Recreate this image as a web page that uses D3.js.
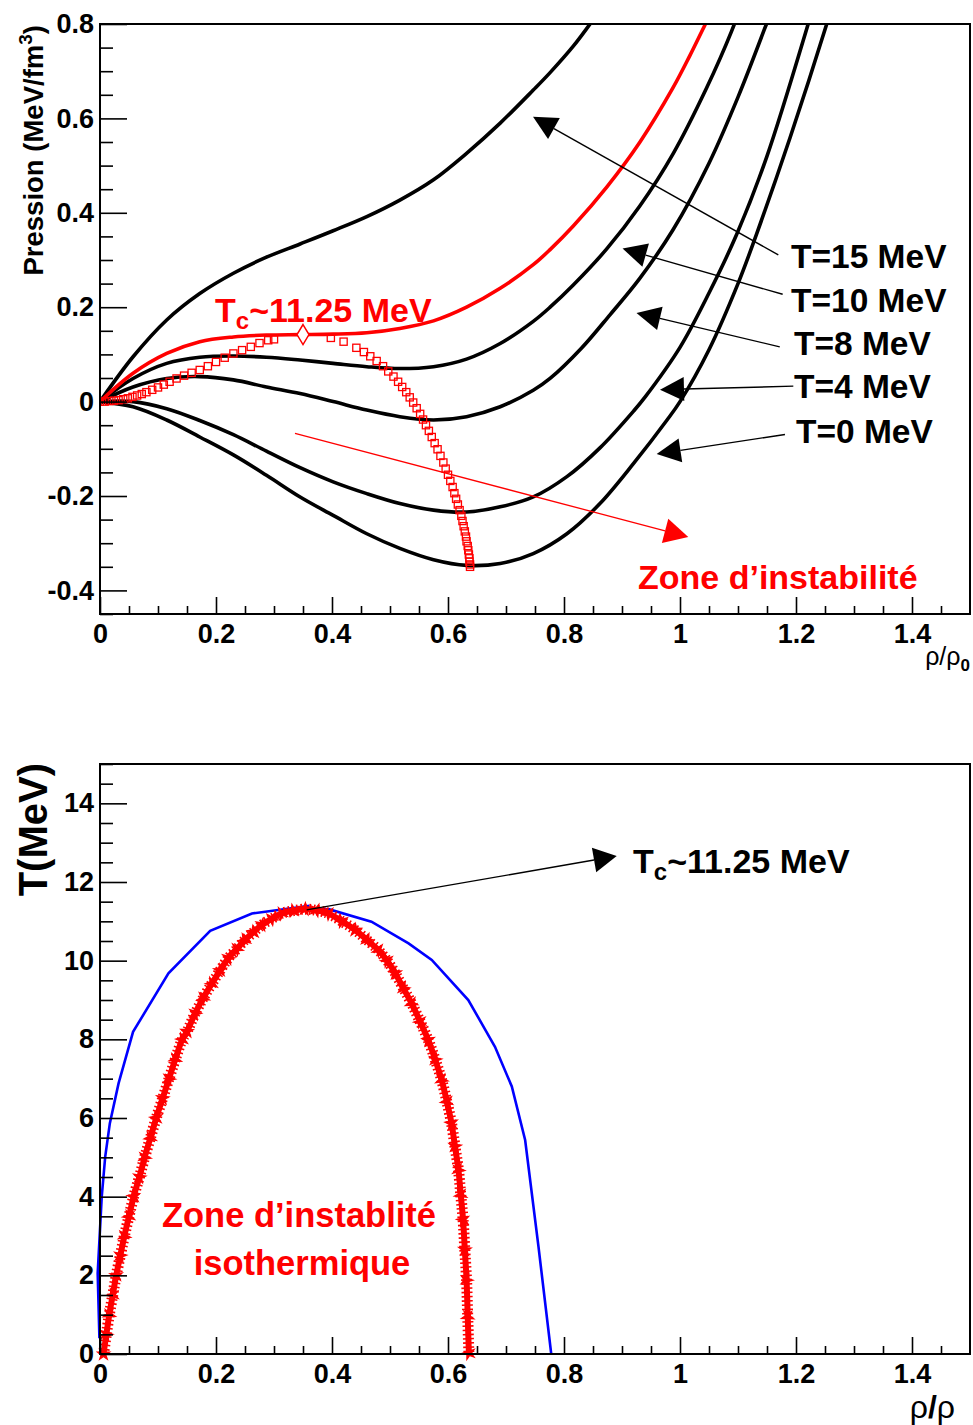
<!DOCTYPE html>
<html>
<head>
<meta charset="utf-8">
<script src="https://cdn.jsdelivr.net/npm/d3@7"></script>
<style>
  body { margin: 0; background: #fff; }
  svg text { font-family: "Liberation Sans", Arial, Helvetica, sans-serif; font-weight: bold; }
</style>
</head>
<body>
<svg id="fig" width="973" height="1425"></svg>
<script>
// ---- top panel: isotherms P(rho/rho0) ----
const rhoT15  = [0, 0.057, 0.115, 0.172, 0.230, 0.287, 0.345, 0.402, 0.460, 0.517, 0.575, 0.632, 0.690, 0.747, 0.776, 0.816, 0.845, 0.870];
const presT15 = [0, 0.095, 0.173, 0.229, 0.272, 0.306, 0.334, 0.362, 0.392, 0.427, 0.470, 0.526, 0.590, 0.660, 0.697, 0.753, 0.800, 0.842];

const rhoTc  = [0, 0.057, 0.115, 0.172, 0.230, 0.287, 0.345, 0.402, 0.460, 0.517, 0.575, 0.632, 0.690, 0.747, 0.776, 0.816, 0.874, 0.931, 0.988, 1.017, 1.043, 1.060];
const presTc = [0, 0.060, 0.102, 0.127, 0.137, 0.141, 0.142, 0.143, 0.146, 0.155, 0.171, 0.200, 0.240, 0.290, 0.322, 0.372, 0.455, 0.550, 0.665, 0.733, 0.798, 0.840];

const rhoT10  = [0, 0.057, 0.115, 0.172, 0.230, 0.287, 0.345, 0.402, 0.460, 0.517, 0.575, 0.632, 0.690, 0.747, 0.776, 0.816, 0.874, 0.931, 0.988, 1.046, 1.089, 1.110];
const presT10 = [0, 0.049, 0.081, 0.094, 0.0965, 0.094, 0.088, 0.081, 0.074, 0.070, 0.074, 0.090, 0.123, 0.170, 0.200, 0.247, 0.324, 0.415, 0.525, 0.665, 0.785, 0.855];

const rhoT8  = [0, 0.057, 0.115, 0.172, 0.230, 0.287, 0.345, 0.402, 0.460, 0.517, 0.575, 0.632, 0.690, 0.747, 0.776, 0.830, 0.880, 0.930, 0.988, 1.050, 1.100, 1.149, 1.170];
const presT8 = [0, 0.031, 0.049, 0.053, 0.046, 0.031, 0.017, 0.000, -0.018, -0.032, -0.039, -0.032, -0.011, 0.024, 0.049, 0.113, 0.185, 0.260, 0.364, 0.505, 0.645, 0.800, 0.870];

const rhoT4  = [0, 0.057, 0.115, 0.172, 0.230, 0.287, 0.345, 0.402, 0.460, 0.517, 0.575, 0.632, 0.690, 0.747, 0.805, 0.862, 0.920, 0.940, 1.000, 1.050, 1.098, 1.150, 1.221, 1.240];
const presT4 = [0, 0.000, -0.015, -0.040, -0.070, -0.105, -0.140, -0.170, -0.195, -0.216, -0.230, -0.234, -0.223, -0.202, -0.159, -0.098, -0.020, 0.010, 0.115, 0.230, 0.355, 0.520, 0.800, 0.880];

const rhoT0  = [0, 0.057, 0.115, 0.172, 0.230, 0.287, 0.345, 0.402, 0.460, 0.517, 0.575, 0.632, 0.690, 0.747, 0.805, 0.862, 0.920, 0.977, 1.000, 1.050, 1.100, 1.132, 1.190, 1.253, 1.270];
const presT0 = [0, -0.011, -0.039, -0.075, -0.113, -0.156, -0.202, -0.241, -0.280, -0.311, -0.335, -0.347, -0.343, -0.322, -0.280, -0.216, -0.131, -0.040, 0.000, 0.110, 0.250, 0.355, 0.560, 0.800, 0.870];

// spinodal points (open squares) and critical point (diamond)
const spinRho  = [0.000, 0.008, 0.016, 0.024, 0.032, 0.040, 0.048, 0.056, 0.064, 0.072, 0.080, 0.090, 0.100, 0.110, 0.120, 0.132, 0.145, 0.158, 0.172, 0.186, 0.200, 0.215, 0.230, 0.245, 0.260, 0.275, 0.290, 0.300,
                  0.398, 0.420, 0.442, 0.455, 0.466, 0.477, 0.488, 0.497, 0.506, 0.514, 0.521, 0.528, 0.534, 0.540, 0.546, 0.552, 0.557, 0.562, 0.567, 0.572, 0.577, 0.582, 0.587, 0.592, 0.596, 0.600, 0.604, 0.608, 0.611, 0.614, 0.617, 0.620, 0.623, 0.625, 0.627, 0.629, 0.631, 0.632, 0.634, 0.635, 0.636, 0.637, 0.637, 0.638, 0.638];
const spinPres = [0.000, 0.000, 0.001, 0.002, 0.003, 0.005, 0.007, 0.010, 0.013, 0.016, 0.020, 0.025, 0.030, 0.036, 0.042, 0.049, 0.055, 0.061, 0.067, 0.075, 0.084, 0.093, 0.102, 0.109, 0.116, 0.124, 0.130, 0.132,
                  0.135, 0.127, 0.114, 0.105, 0.096, 0.086, 0.075, 0.064, 0.053, 0.042, 0.031, 0.020, 0.009, -0.002, -0.014, -0.026, -0.038, -0.050, -0.062, -0.075, -0.088, -0.101, -0.115, -0.129, -0.142, -0.155, -0.168, -0.181, -0.194, -0.206, -0.218, -0.230, -0.242, -0.253, -0.264, -0.275, -0.286, -0.296, -0.306, -0.315, -0.324, -0.332, -0.339, -0.345, -0.350];
const critRho = 0.35, critPres = 0.142;

const isoLabels = ["T=15 MeV", "T=10 MeV", "T=8 MeV", "T=4 MeV", "T=0 MeV"];
const isoArrowTail = [[1.1695, 0.3107], [1.177, 0.2274], [1.172, 0.116], [1.1954, 0.0327], [1.181, -0.0696]];
const isoArrowTip  = [[0.7466, 0.6034], [0.901, 0.3243], [0.925, 0.1879], [0.9655, 0.0252], [0.9598, -0.1111]];
const zoneArrow = [[0.3362, -0.0674], [1.0143, -0.2867]];

// ---- bottom panel: T vs rho/rho0 ----
const spinStarRho = [0.006, 0.011, 0.016, 0.022, 0.028, 0.035, 0.042, 0.050, 0.058, 0.068, 0.077, 0.087, 0.097, 0.108, 0.119, 0.130, 0.142, 0.150, 0.164, 0.178, 0.193, 0.207, 0.221, 0.236, 0.250, 0.265, 0.279, 0.296, 0.313, 0.333, 0.353,
                     0.373, 0.394, 0.417, 0.440, 0.460, 0.480, 0.495, 0.509, 0.523, 0.537, 0.552, 0.566, 0.578, 0.589, 0.598, 0.606, 0.612, 0.618, 0.622, 0.626, 0.629, 0.632, 0.634, 0.636];
const spinStarT   = [0.00, 0.50, 1.00, 1.50, 2.00, 2.50, 3.00, 3.50, 4.00, 4.50, 5.00, 5.50, 6.00, 6.50, 7.00, 7.50, 8.00, 8.20, 8.66, 9.05, 9.42, 9.75, 10.06, 10.30, 10.53, 10.73, 10.91, 11.06, 11.20, 11.27, 11.31,
                     11.28, 11.20, 11.00, 10.78, 10.53, 10.27, 10.00, 9.68, 9.30, 8.92, 8.45, 7.98, 7.48, 6.97, 6.42, 5.87, 5.28, 4.68, 4.05, 3.41, 2.65, 1.88, 0.95, 0.02];

const coexRho = [-0.001, -0.004, 0.003, 0.009, 0.017, 0.032, 0.057, 0.118, 0.190, 0.262, 0.359, 0.359, 0.394, 0.468, 0.532, 0.572, 0.635, 0.681, 0.710, 0.733, 0.756, 0.778];
const coexT   = [0.40, 2.05, 4.00, 5.02, 5.87, 6.88, 8.19, 9.68, 10.76, 11.20, 11.39, 11.29, 11.31, 10.99, 10.44, 10.02, 9.00, 7.81, 6.80, 5.44, 2.73, 0.00];
const tcArrow = [[0.3563, 11.29], [0.8909, 12.66]];

// ticks
const xMajor = [0, 0.2, 0.4, 0.6, 0.8, 1, 1.2, 1.4];
const xMinor = d3.range(0, 30).map(i => +(i * 0.05).toFixed(2)).filter(v => !xMajor.includes(v));
const pMajor = [-0.4, -0.2, 0, 0.2, 0.4, 0.6, 0.8];
const pMinor = d3.range(-9, 17).map(i => +(i * 0.05).toFixed(2)).filter(v => !pMajor.includes(v));
const tMajor = [0, 2, 4, 6, 8, 10, 12, 14];
const tMinor = d3.range(0, 31).map(i => i * 0.5).filter(v => !tMajor.includes(v));

// ---- drawing ----
const svg = d3.select("#fig");
const x  = d3.scaleLinear([0, 1.5], [100, 970]);
const yP = d3.scaleLinear([-0.45, 0.8], [614, 24]);
const yT = d3.scaleLinear([0, 15], [1354, 764]);
const fmt = d => String(+d.toFixed(2));

function axes(y, yMajor, yMinor) {
    const g = svg.append("g");
    const base = y.range()[0];
    // minor ticks
    g.append("g").attr("transform", `translate(0,${base})`)
        .call(d3.axisBottom(x).tickValues(xMinor).tickSize(-8).tickFormat(""));
    g.append("g").attr("transform", "translate(100,0)")
        .call(d3.axisLeft(y).tickValues(yMinor).tickSize(-13).tickFormat(""));
    // major ticks + labels
    g.append("g").attr("transform", `translate(0,${base})`)
        .call(d3.axisBottom(x).tickValues(xMajor).tickSize(-17).tickPadding(10).tickFormat(fmt));
    g.append("g").attr("transform", "translate(100,0)")
        .call(d3.axisLeft(y).tickValues(yMajor).tickSize(-27).tickPadding(6).tickFormat(fmt));
    g.selectAll(".domain").remove();
    g.selectAll(".tick line").attr("stroke", "#000").attr("stroke-width", 1.6);
    g.selectAll(".tick text").attr("fill", "#000").attr("font-size", 27);
    g.selectAll("g").attr("font-family", null).attr("font-size", null);
    // frame
    svg.append("rect").attr("x", 100).attr("y", y.range()[1])
        .attr("width", 870).attr("height", base - y.range()[1])
        .attr("fill", "none").attr("stroke", "#000").attr("stroke-width", 2);
}

function arrow(g, x0, y0, x1, y1, color, len, hw, lw) {
    const a = Math.atan2(y1 - y0, x1 - x0);
    const bx = x1 - len * Math.cos(a), by = y1 - len * Math.sin(a);
    g.append("line").attr("x1", x0).attr("y1", y0).attr("x2", bx).attr("y2", by)
        .attr("stroke", color).attr("stroke-width", lw);
    const px = -Math.sin(a) * hw, py = Math.cos(a) * hw;
    g.append("path")
        .attr("d", `M${x1},${y1}L${bx + px},${by + py}L${bx - px},${by - py}Z`)
        .attr("fill", color);
}

// ===== top panel =====
svg.append("clipPath").attr("id", "clipTop").append("rect")
    .attr("x", 100).attr("y", 24).attr("width", 870).attr("height", 590);

const gTop = svg.append("g").attr("clip-path", "url(#clipTop)");
const isoLine = d3.line().curve(d3.curveCatmullRom.alpha(0.5)).x(d => x(d[0])).y(d => yP(d[1]));

const isotherms = [
    {rho: rhoT15, p: presT15, color: "#000"},
    {rho: rhoT10, p: presT10, color: "#000"},
    {rho: rhoT8,  p: presT8,  color: "#000"},
    {rho: rhoT4,  p: presT4,  color: "#000"},
    {rho: rhoT0,  p: presT0,  color: "#000"},
    {rho: rhoTc,  p: presTc,  color: "#ff0000"}
];
isotherms.forEach(c => {
    gTop.append("path").datum(d3.zip(c.rho, c.p))
        .attr("d", isoLine).attr("fill", "none")
        .attr("stroke", c.color).attr("stroke-width", 3.6);
});

// spinodal squares
gTop.selectAll("rect.spin").data(d3.zip(spinRho, spinPres)).join("rect")
    .attr("class", "spin")
    .attr("x", d => x(d[0]) - 3.6).attr("y", d => yP(d[1]) - 3.6)
    .attr("width", 7.2).attr("height", 7.2)
    .attr("fill", "none").attr("stroke", "#ff0000").attr("stroke-width", 1.3);

// critical point diamond
const cx = x(critRho), cy = yP(critPres);
gTop.append("path").attr("d", `M${cx},${cy - 10}L${cx + 6},${cy}L${cx},${cy + 10}L${cx - 6},${cy}Z`)
    .attr("fill", "#fff").attr("stroke", "#ff0000").attr("stroke-width", 1.5);

axes(yP, pMajor, pMinor);

const ann = svg.append("g");
isoLabels.forEach((lab, i) => {
    arrow(ann, x(isoArrowTail[i][0]), yP(isoArrowTail[i][1]),
        x(isoArrowTip[i][0]), yP(isoArrowTip[i][1]), "#000", 24, 12, 1.4);
});
const labPos = [[791, 268], [791, 312], [794, 355], [794, 398], [796, 443]];
isoLabels.forEach((lab, i) => {
    ann.append("text").attr("x", labPos[i][0]).attr("y", labPos[i][1])
        .attr("font-size", 33.5).attr("fill", "#000").text(lab);
});

arrow(ann, x(zoneArrow[0][0]), yP(zoneArrow[0][1]), x(zoneArrow[1][0]), yP(zoneArrow[1][1]), "#ff0000", 24, 12.5, 1.3);
ann.append("text").attr("x", 638).attr("y", 589).attr("font-size", 34)
    .attr("fill", "#ff0000").text("Zone d\u2019instabilit\u00e9");

const tcTop = ann.append("text").attr("x", 215).attr("y", 322).attr("font-size", 34).attr("fill", "#ff0000");
tcTop.append("tspan").text("T");
tcTop.append("tspan").attr("font-size", 24).attr("dy", 7).text("c");
tcTop.append("tspan").attr("dy", -7).text("~11.25 MeV");

// axis titles (top)
const yt1 = svg.append("text").attr("transform", "translate(43,25) rotate(-90)")
    .attr("text-anchor", "end").attr("font-size", 27.5).attr("fill", "#000");
yt1.append("tspan").text("Pression (MeV/fm");
yt1.append("tspan").attr("font-size", 19).attr("dy", -11).text("3");
yt1.append("tspan").attr("dy", 11).text(")");

const xt1 = svg.append("text").attr("x", 970).attr("y", 665).attr("text-anchor", "end")
    .attr("fill", "#000").attr("font-size", 25);
xt1.append("tspan").attr("font-weight", "normal").text("\u03c1/\u03c1");
xt1.append("tspan").attr("font-size", 17).attr("dy", 6).text("0");

// ===== bottom panel =====
svg.append("clipPath").attr("id", "clipBot").append("rect")
    .attr("x", 96).attr("y", 764).attr("width", 874).attr("height", 600);
const gBot = svg.append("g").attr("clip-path", "url(#clipBot)");

gBot.append("path").datum(d3.zip(coexRho, coexT))
    .attr("d", d3.line().x(d => x(d[0])).y(d => yT(d[1])))
    .attr("fill", "none").attr("stroke", "#0000ff").attr("stroke-width", 2.6);

const starPts = d3.zip(spinStarRho, spinStarT);
const starLine = d3.line().curve(d3.curveCatmullRom).x(d => x(d[0])).y(d => yT(d[1]));
gBot.append("path").datum(starPts).attr("d", starLine)
    .attr("fill", "none").attr("stroke", "#ff0000").attr("stroke-width", 6);
// serrated edge of the densely packed star markers
gBot.append("path").datum(starPts).attr("d", starLine)
    .attr("fill", "none").attr("stroke", "#ff0000").attr("stroke-width", 11)
    .attr("stroke-dasharray", "1.6,2.6");
const star = d3.symbol().type(d3.symbolStar).size(80)();
gBot.selectAll("path.star").data(starPts).join("path")
    .attr("class", "star")
    .attr("transform", (d, i) => `translate(${x(d[0])},${yT(d[1])}) rotate(${i * 17})`)
    .attr("d", star).attr("fill", "#ff0000");

axes(yT, tMajor, tMinor);

const ann2 = svg.append("g");
arrow(ann2, x(tcArrow[0][0]), yT(tcArrow[0][1]), x(tcArrow[1][0]), yT(tcArrow[1][1]), "#000", 23, 12.5, 1.4);
const tcBot = ann2.append("text").attr("x", 633).attr("y", 873).attr("font-size", 34).attr("fill", "#000");
tcBot.append("tspan").text("T");
tcBot.append("tspan").attr("font-size", 24).attr("dy", 7).text("c");
tcBot.append("tspan").attr("dy", -7).text("~11.25 MeV");

ann2.append("text").attr("x", 299).attr("y", 1227).attr("text-anchor", "middle")
    .attr("font-size", 34.5).attr("fill", "#ff0000").text("Zone d\u2019instablit\u00e9");
ann2.append("text").attr("x", 302).attr("y", 1275).attr("text-anchor", "middle")
    .attr("font-size", 34.5).attr("fill", "#ff0000").text("isothermique");

svg.append("text").attr("transform", "translate(47,763) rotate(-90)")
    .attr("text-anchor", "end").attr("font-size", 40).attr("fill", "#000").text("T(MeV)");

const xt2 = svg.append("text").attr("x", 955).attr("y", 1418).attr("text-anchor", "end")
    .attr("fill", "#000").attr("font-size", 32);
xt2.append("tspan").attr("font-weight", "normal").text("\u03c1");
xt2.append("tspan").text("/");
xt2.append("tspan").attr("font-weight", "normal").text("\u03c1");
</script>
</body>
</html>
